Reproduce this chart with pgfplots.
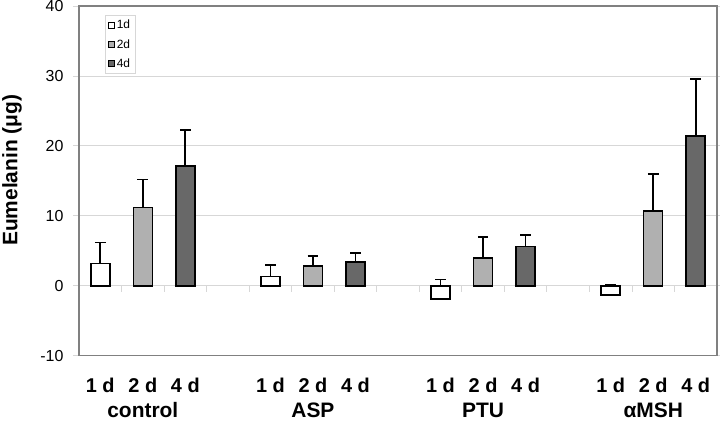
\documentclass[border=0pt]{standalone}
\usepackage{fontspec}
\setmainfont{Liberation Sans}
\usepackage{pgfplots}
\pgfplotsset{compat=1.18}
\usepackage{pgfplotstable}
\definecolor{boxgray}{RGB}{128,128,128}
\definecolor{gridgray}{RGB}{215,215,215}
\definecolor{ctwo}{RGB}{176,176,176}
\definecolor{cfour}{RGB}{104,104,104}

\pgfplotstableread{
x y err
0 3.2 3.0
4 1.3 1.7
8 -1.9 2.8
12 -1.35 1.55
}\dayone
\pgfplotstableread{
x y err
1 11.2 4.0
5 2.85 1.45
9 4.0 3.0
13 10.7 5.3
}\daytwo
\pgfplotstableread{
x y err
2 17.1 5.2
6 3.4 1.3
10 5.6 1.7
14 21.4 8.2
}\dayfour

\begin{document}
\begin{tikzpicture}
\begin{axis}[
  scale only axis,
  clip=false,
  width=638bp, height=349.7bp,
  xmin=-0.5, xmax=14.5, ymin=-10, ymax=40,
  ytick={-10,0,10,20,30,40},
  ymajorgrids,
  grid style={gridgray, line width=0.8bp},
  axis line style={boxgray, line width=1.3bp},
  tick align=outside,
  major tick length=6bp,
  ytick style={gridgray, line width=0.8bp},
  xtick={0,1,2,4,5,6,8,9,10,12,13,14},
  xticklabels={1 d,2 d,4 d,1 d,2 d,4 d,1 d,2 d,4 d,1 d,2 d,4 d},
  xtick style={draw=none},
  xticklabel style={anchor=base, yshift=-31bp, font=\bfseries\fontsize{20}{20}\selectfont},
  yticklabel style={font=\fontsize{16}{16}\selectfont, xshift=-6bp},
  /pgf/number format/assume math mode=true,
  ylabel={\bfseries Eumelanin (μg)},
  ylabel style={at={(rel axis cs:0,0.53)}, anchor=center, yshift=67bp, font=\fontsize{21}{21}\selectfont},
  ybar, bar width=19bp, bar shift=0pt,
  every error bar/.append style={line width=1.7bp, black},
  legend style={at={(rel axis cs:0,1)}, anchor=north west, xshift=26bp, yshift=-9bp,
    draw=gridgray, line width=0.6bp, font=\fontsize{12}{12}\selectfont,
    row sep=5bp, inner xsep=3bp, inner ysep=3bp, cells={anchor=west}},
  legend image code/.code={\draw[#1, line width=0.5bp] (0bp,-3bp) rectangle (6bp,3bp);},
]
\pgfplotsinvokeforeach{1,...,14}{
  \draw[gridgray, line width=0.8bp] (axis cs:{#1-0.5},0) -- ++(canvas cs:x=0pt,y=-6bp);
}
\addplot[fill=white, draw=black, line width=1.5bp,
  error bars/.cd, y dir=plus, y explicit,
  error bar style={black, line width=1.7bp},
  error mark options={rotate=90, mark size=5.3bp, line width=1.7bp, black}]
  table[x=x, y=y, y error=err]{\dayone};
\addlegendentry{1d}
\addplot[fill=ctwo, draw=black, line width=1.5bp,
  error bars/.cd, y dir=plus, y explicit,
  error bar style={black, line width=1.7bp},
  error mark options={rotate=90, mark size=5.3bp, line width=1.7bp, black}]
  table[x=x, y=y, y error=err]{\daytwo};
\addlegendentry{2d}
\addplot[fill=cfour, draw=black, line width=1.5bp,
  error bars/.cd, y dir=plus, y explicit,
  error bar style={black, line width=1.7bp},
  error mark options={rotate=90, mark size=5.3bp, line width=1.7bp, black}]
  table[x=x, y=y, y error=err]{\dayfour};
\addlegendentry{4d}
\addplot[fill=white, draw=black, line width=1.5bp, forget plot] table[x=x, y=y]{\dayone};
\node[anchor=base, yshift=-62bp, font=\bfseries\fontsize{21}{21}\selectfont] at (axis cs:1,-10) {control};
\node[anchor=base, yshift=-62bp, font=\bfseries\fontsize{21}{21}\selectfont] at (axis cs:5,-10) {ASP};
\node[anchor=base, yshift=-62bp, font=\bfseries\fontsize{21}{21}\selectfont] at (axis cs:9,-10) {PTU};
\node[anchor=base, yshift=-62bp, font=\bfseries\fontsize{21}{21}\selectfont] at (axis cs:13,-10) {αMSH};
\end{axis}
\pgfresetboundingbox
\path (current axis.south west) ++(-79bp,-66.3bp) coordinate (bbA);
\path (current axis.north east) ++(3bp,6bp) coordinate (bbB);
\useasboundingbox (bbA) rectangle (bbB);
\end{tikzpicture}
\end{document}
